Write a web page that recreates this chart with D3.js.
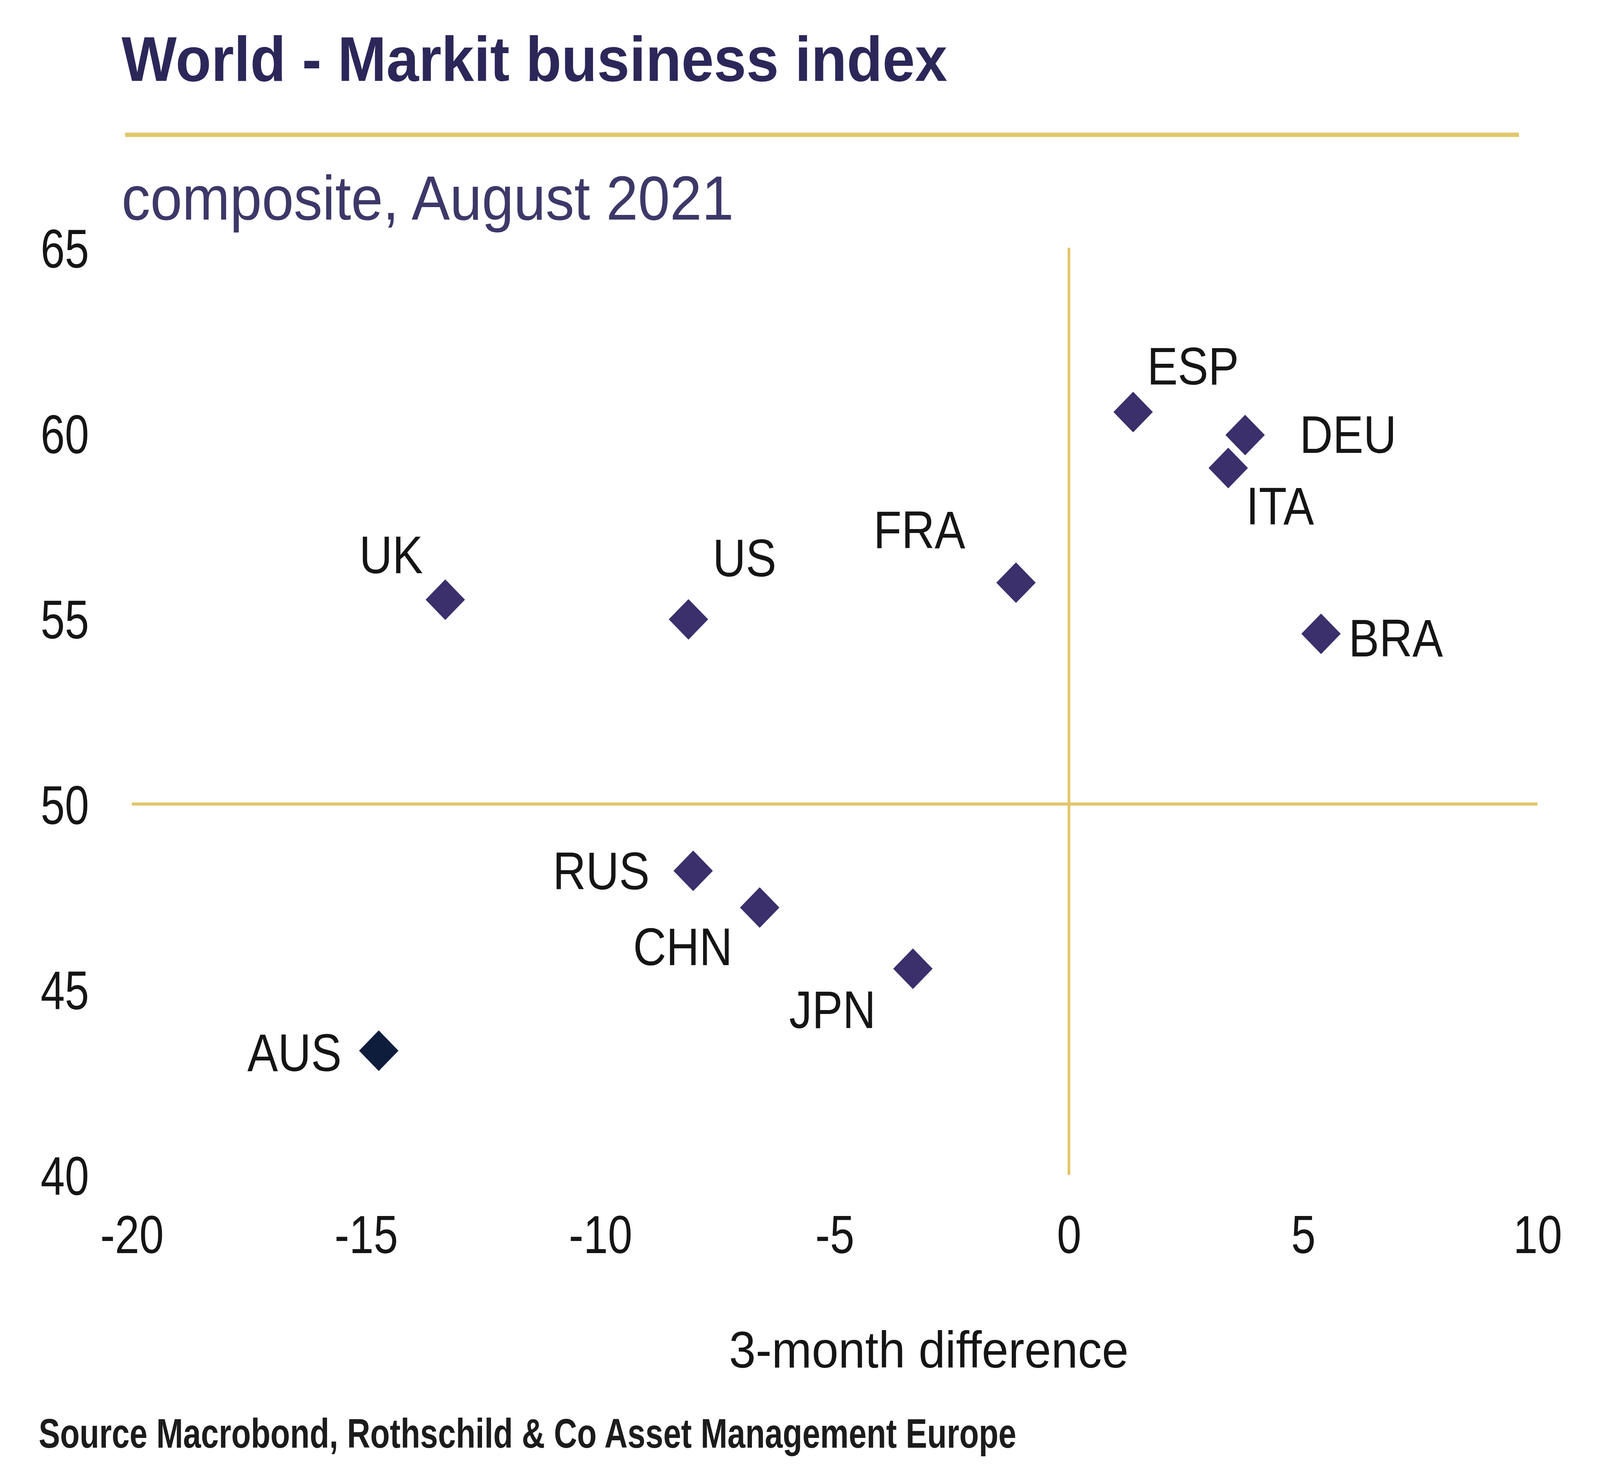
<!DOCTYPE html>
<html>
<head>
<meta charset="utf-8">
<script src="https://cdn.jsdelivr.net/npm/d3@7"></script>
<style>
  html, body { margin: 0; padding: 0; background: #ffffff; width: 100%; height: 100%; overflow: hidden; }
  svg { display: block; width: 100vw; height: 100vh; }
  text { font-family: "Liberation Sans", Arial, sans-serif; }
</style>
</head>
<body>
<svg id="chart" viewBox="0 0 4224 3780" preserveAspectRatio="none"></svg>
<script>
// ---- data ----
const countries = ["ESP", "DEU", "ITA", "BRA", "FRA", "US", "UK", "RUS", "CHN", "JPN", "AUS"];
const diff3m    = [1.37, 3.76, 3.40, 5.38, -1.13, -8.12, -13.31, -8.02, -6.60, -3.33, -14.73];
const pmi       = [60.57, 59.95, 59.06, 54.59, 55.97, 54.98, 55.51, 48.20, 47.21, 45.56, 43.35];
const xTicks = [-20, -15, -10, -5, 0, 5, 10];
const yTicks = [40, 45, 50, 55, 60, 65];
const titleText = "World - Markit business index";
const subtitleText = "composite, August 2021";
const xTitleText = "3-month difference";
const sourceText = "Source Macrobond, Rothschild & Co Asset Management Europe";

// ---- label placement (layout only) ----
const labelPlacement = {
  ESP: { anchor: "start", dx: 37,   dy: -70 },
  DEU: { anchor: "start", dx: 144,  dy: 46 },
  ITA: { anchor: "start", dx: 47,   dy: 144 },
  BRA: { anchor: "start", dx: 73,   dy: 58 },
  FRA: { anchor: "end",   dx: -134, dy: -88 },
  US:  { anchor: "start", dx: 64,   dy: -110 },
  UK:  { anchor: "end",   dx: -59,  dy: -68 },
  RUS: { anchor: "end",   dx: -115, dy: 47 },
  CHN: { anchor: "end",   dx: -72,  dy: 147 },
  JPN: { anchor: "end",   dx: -98,  dy: 152 },
  AUS: { anchor: "end",   dx: -98,  dy: 52 }
};

const points = countries.map((c, i) => ({ name: c, x: diff3m[i], y: pmi[i] }));

const svg = d3.select("#chart");
const gold = "#e2c66a";
const ink = "#151515";

const x = d3.scaleLinear().domain([-20, 10]).range([348, 4059]);
const y = d3.scaleLinear().domain([40, 65]).range([3007, 634]);

function condense(sel, factor) {
  sel.each(function () {
    const len = this.getComputedTextLength();
    d3.select(this).attr("textLength", len * factor).attr("lengthAdjust", "spacingAndGlyphs");
  });
}

// ---- header ----
svg.append("text")
  .attr("x", 321).attr("y", 207)
  .attr("font-size", 162).attr("font-weight", "bold")
  .attr("fill", "#2b2759")
  .text(titleText)
  .attr("textLength", 2180).attr("lengthAdjust", "spacingAndGlyphs");

svg.append("line")
  .attr("x1", 330).attr("x2", 4010)
  .attr("y1", 345).attr("y2", 345)
  .attr("stroke", gold).attr("stroke-width", 11);

svg.append("text")
  .attr("x", 321).attr("y", 562)
  .attr("font-size", 160)
  .attr("fill", "#3c3868")
  .text(subtitleText)
  .attr("textLength", 1616).attr("lengthAdjust", "spacingAndGlyphs");

// ---- crosshair lines ----
svg.append("line")
  .attr("x1", x(-20)).attr("x2", x(10))
  .attr("y1", y(50)).attr("y2", y(50))
  .attr("stroke", gold).attr("stroke-width", 8);
svg.append("line")
  .attr("x1", x(0)).attr("x2", x(0))
  .attr("y1", y(65)).attr("y2", y(40))
  .attr("stroke", gold).attr("stroke-width", 7);

// ---- axes ----
const xAxis = svg.append("g")
  .attr("transform", `translate(0,${y(40)})`)
  .call(d3.axisBottom(x).tickValues(xTicks).tickSize(0).tickPadding(102).tickFormat(d => String(d)));
xAxis.select(".domain").remove();
xAxis.selectAll("text")
  .attr("font-size", 138).attr("fill", ink)
  .attr("font-family", "\"Liberation Sans\", Arial, sans-serif")
  .call(condense, 0.84);

const yAxis = svg.append("g")
  .attr("transform", `translate(${x(-20)},0)`)
  .call(d3.axisLeft(y).tickValues(yTicks).tickSize(0).tickPadding(113).tickFormat(d => String(d)));
yAxis.select(".domain").remove();
yAxis.selectAll("text")
  .attr("font-size", 140).attr("fill", ink)
  .attr("dy", "0.36em")
  .attr("font-family", "\"Liberation Sans\", Arial, sans-serif")
  .call(condense, 0.82);

// ---- axis title ----
svg.append("text")
  .attr("x", 2452).attr("y", 3500)
  .attr("text-anchor", "middle")
  .attr("font-size", 132).attr("fill", ink)
  .text(xTitleText)
  .attr("textLength", 1055).attr("lengthAdjust", "spacingAndGlyphs");

// ---- source ----
svg.append("text")
  .attr("x", 102).attr("y", 3705)
  .attr("font-size", 106).attr("fill", "#1c1c1c")
  .attr("font-weight", "bold")
  .text(sourceText)
  .attr("textLength", 2581).attr("lengthAdjust", "spacingAndGlyphs");

// ---- points ----
const diamond = d3.symbol().type(d3.symbolSquare).size(5400);
svg.append("g").selectAll("path")
  .data(points)
  .join("path")
  .attr("d", diamond)
  .attr("transform", d => `translate(${x(d.x)},${y(d.y)}) rotate(45)`)
  .attr("fill", d => d.name === "AUS" ? "#0f1d3c" : "#3b2f6c");

// ---- labels ----
svg.append("g").selectAll("text")
  .data(points)
  .join("text")
  .attr("x", d => x(d.x) + labelPlacement[d.name].dx)
  .attr("y", d => y(d.y) + labelPlacement[d.name].dy)
  .attr("text-anchor", d => labelPlacement[d.name].anchor)
  .attr("font-size", 136).attr("fill", ink)
  .text(d => d.name)
  .call(condense, 0.89);
</script>
</body>
</html>
